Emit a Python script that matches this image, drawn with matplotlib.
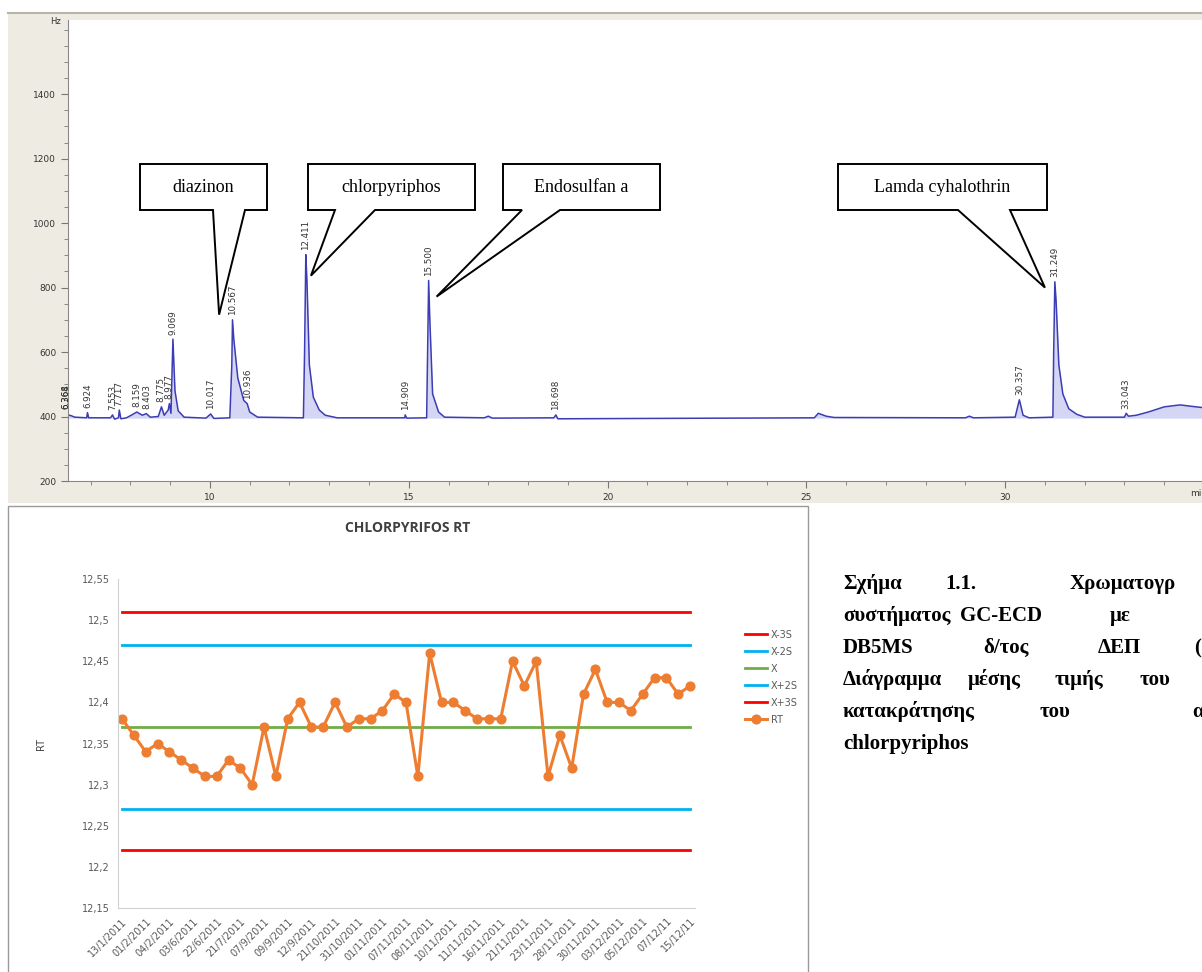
import numpy as np
import matplotlib
matplotlib.use("Agg")
import matplotlib.pyplot as plt
from matplotlib.patches import Rectangle, Polygon
from matplotlib.ticker import MultipleLocator

# ---- chromatogram (GC-ECD) ----
trace_t = [6.43, 6.5, 6.6, 6.9, 6.92, 6.95, 7.5, 7.55, 7.6, 7.7, 7.72, 7.76, 7.9, 8.05, 8.16, 8.3,
           8.4, 8.5, 8.7, 8.78, 8.85, 8.95, 8.98, 9.02, 9.069, 9.12, 9.2, 9.35, 9.9, 10.017, 10.1,
           10.5, 10.55, 10.567, 10.6, 10.7, 10.85, 10.936, 11.0, 11.2, 12.35, 12.38, 12.411, 12.44,
           12.5, 12.6, 12.75, 12.9, 13.2, 14.9, 14.91, 14.95, 15.45, 15.48, 15.5, 15.53, 15.6, 15.75,
           15.9, 16.9, 17.0, 17.1, 18.65, 18.7, 18.75, 25.2, 25.3, 25.5, 25.7, 29.0, 29.1, 29.2,
           30.25, 30.357, 30.45, 30.6, 31.2, 31.22, 31.249, 31.28, 31.35, 31.45, 31.6, 31.8, 32.0,
           33.0, 33.043, 33.1, 33.3, 33.6, 34.0, 34.4, 34.8, 34.95]
trace_v = [405, 403, 398, 396, 412, 396, 396, 405, 392, 396, 420, 393, 396, 406, 414, 404,
           409, 398, 400, 430, 404, 420, 440, 410, 640, 480, 418, 398, 395, 408, 394,
           396, 560, 700, 640, 520, 450, 440, 414, 398, 396, 600, 902, 820,
           560, 460, 420, 404, 396, 396, 405, 395, 396, 650, 822, 700, 470, 414,
           398, 396, 401, 395, 396, 405, 393, 396, 410, 401, 397, 396, 401, 396,
           398, 452, 404, 396, 398, 600, 818, 760, 560, 470, 424, 407, 398,
           398, 410, 401, 404, 414, 430, 436, 430, 428]

peak_labels = ["6.364", "6.368", "6.924", "7.553", "7.717", "8.159", "8.403", "8.775", "8.977",
               "9.069", "10.017", "10.567", "10.936", "12.411", "14.909", "15.500", "18.698",
               "30.357", "31.249", "33.043"]
peak_tops = [410, 410, 412, 405, 420, 415, 410, 430, 440, 640, 408, 700, 440, 902, 405, 822,
             405, 452, 818, 410]

callout_names = ["diazinon", "chlorpyriphos", "Endosulfan a", "Lamda cyhalothrin"]
callout_tips_t = [10.23, 12.54, 15.70, 31.00]
callout_tips_v = [716, 837, 772, 800]

# ---- control chart ----
date_labels = ["13/1/2011", "01/2/2011", "04/2/2011", "03/6/2011", "22/6/2011", "21/7/2011",
               "07/9/2011", "09/9/2011", "12/9/2011", "21/10/2011", "31/10/2011", "01/11/2011",
               "07/11/2011", "08/11/2011", "10/11/2011", "11/11/2011", "16/11/2011", "21/11/2011",
               "23/11/2011", "28/11/2011", "30/11/2011", "03/12/2011", "05/12/2011", "07/12/11",
               "15/12/11"]
rt = [12.38, 12.36, 12.34, 12.35, 12.34, 12.33, 12.32, 12.31, 12.31, 12.33, 12.32, 12.30, 12.37,
      12.31, 12.38, 12.40, 12.37, 12.37, 12.40, 12.37, 12.38, 12.38, 12.39, 12.41, 12.40, 12.31,
      12.46, 12.40, 12.40, 12.39, 12.38, 12.38, 12.38, 12.45, 12.42, 12.45, 12.31, 12.36, 12.32,
      12.41, 12.44, 12.40, 12.40, 12.39, 12.41, 12.43, 12.43, 12.41, 12.42]
limit_names = ["X-3S", "X-2S", "X", "X+2S", "X+3S"]
limit_values = [12.22, 12.27, 12.37, 12.47, 12.51]
limit_colors = ["#FF0000", "#00B0F0", "#70AD47", "#00B0F0", "#FF0000"]

W, H = 1202, 972
fig = plt.figure(figsize=(W / 100, H / 100), dpi=100)


def px_rect(x0, y0, x1, y1):
    return [x0 / W, 1 - y1 / H, (x1 - x0) / W, (y1 - y0) / H]


# background layer in pixel coordinates
bg = fig.add_axes([0, 0, 1, 1], zorder=0)
bg.set_xlim(0, W)
bg.set_ylim(H, 0)
bg.axis("off")
bg.add_patch(Rectangle((8, 12), W - 8, 491, facecolor="#EEECE2", edgecolor="none"))
bg.plot([8, W], [13, 13], color="#B8B5A8", lw=1.5)
bg.add_patch(Rectangle((8, 506), 800, 480, facecolor="white", edgecolor="#9A9A9A", lw=1))

# chromatogram
ax = fig.add_axes(px_rect(68, 20, W, 481), zorder=1)
ax.set_facecolor("white")
ax.fill_between(trace_t, 395, trace_v, color="#B4B4EC", alpha=0.55, lw=0)
ax.plot(trace_t, trace_v, color="#3C3CB4", lw=1.1)
ax.set_xlim(6.43, 34.95)
ax.set_ylim(200, 1630)
ax.set_yticks(np.arange(200, 1401, 200))
ax.yaxis.set_minor_locator(MultipleLocator(50))
ax.set_xticks(np.arange(10, 31, 5))
ax.xaxis.set_minor_locator(MultipleLocator(1))
ax.tick_params(which="both", direction="out", colors="#777777", labelcolor="#333333",
               labelsize=6.5)
ax.tick_params(which="major", length=5)
ax.tick_params(which="minor", length=3)
for s in ["top", "right"]:
    ax.spines[s].set_visible(False)
for s in ["left", "bottom"]:
    ax.spines[s].set_color("#888888")
for lab, v in zip(peak_labels, peak_tops):
    ax.text(float(lab), v + 14, lab, rotation=90, ha="center", va="bottom", fontsize=6.3,
            color="#333333", clip_on=False)
fig.text(50 / W, 1 - 22 / H, "Hz", fontsize=6, color="#333333", va="center")
fig.text(1190 / W, 1 - 493 / H, "mi", fontsize=6.5, color="#333333", va="center")

# control chart
ax2 = fig.add_axes(px_rect(118, 579, 695, 908), zorder=1)
x = np.arange(len(rt))
handles = []
for name, val, col in zip(limit_names, limit_values, limit_colors):
    h, = ax2.plot(x, np.full(len(rt), val), color=col, lw=2, label=name)
    handles.append(h)
h, = ax2.plot(x, rt, color="#ED7D31", lw=2.2, marker="o", ms=6.3, label="RT")
handles.append(h)
ax2.set_xlim(-0.34, len(rt) - 1 + 0.42)
ax2.set_ylim(12.15, 12.55)
yt = np.arange(12.15, 12.551, 0.05)
ax2.set_yticks(yt)
ax2.set_yticklabels([f"{v:.2f}".rstrip("0").rstrip(".").replace(".", ",") for v in yt])
ax2.set_xticks(x[::2])
ax2.set_xticklabels(date_labels, rotation=45, ha="right", rotation_mode="anchor")
ax2.tick_params(length=0, labelsize=7, labelcolor="#595959", pad=6)
for s in ["top", "right"]:
    ax2.spines[s].set_visible(False)
ax2.spines["left"].set_color("#D0D0D0")
ax2.spines["bottom"].set_color("#D0D0D0")
ax2.set_ylabel("RT", fontsize=7, color="#404040", labelpad=26)
fig.text(408 / W, 1 - 528 / H, "CHLORPYRIFOS RT", ha="center", va="center",
         fontsize=10, fontweight="bold", color="#404040", family="Open Sans")
fig.legend(handles=handles, loc="upper left", bbox_to_anchor=(736 / W, 1 - 621 / H),
           frameon=False, fontsize=7, handlelength=2.3, labelspacing=0.72,
           handletextpad=0.4, labelcolor="#595959")

# overlay for callouts and caption
ov = fig.add_axes([0, 0, 1, 1], zorder=5)
ov.set_xlim(0, W)
ov.set_ylim(H, 0)
ov.axis("off")
ov.patch.set_alpha(0)
boxes = [(140, 267, 213, 245), (308, 475, 335, 375), (503, 660, 522, 560), (838, 1047, 958, 1010)]
fig.canvas.draw()
for name, (x0, x1, b0, b1), tt, tv in zip(callout_names, boxes, callout_tips_t, callout_tips_v):
    dx, dy = ax.transData.transform((tt, tv))
    tip = (dx, H - dy)
    y0, y1 = 164, 210
    poly = [(x0, y0), (x1, y0), (x1, y1), (b1, y1), tip, (b0, y1), (x0, y1)]
    ov.add_patch(Polygon(poly, closed=True, facecolor="white", edgecolor="black", lw=1.4))
    ov.text((x0 + x1) / 2, 188, name, ha="center", va="center", fontsize=13,
            family="Liberation Serif")

# caption (justified text, cut at the right edge as in the page)
caption = [
    [(843, "Σχήμα"), (945, "1.1."), (1070, "Χρωματογρ")],
    [(843, "συστήματος"), (960, "GC-ECD"), (1110, "με")],
    [(843, "DB5MS"), (983, "δ/τος"), (1098, "ΔΕΠ"), (1194, "(")],
    [(843, "Διάγραμμα"), (968, "μέσης"), (1055, "τιμής"), (1140, "του")],
    [(843, "κατακράτησης"), (1040, "του"), (1192, "α")],
    [(843, "chlorpyriphos")],
]
for i, words in enumerate(caption):
    for xw, w in words:
        ov.text(xw, 589 + 32 * i, w, ha="left", va="baseline", fontsize=15,
                fontweight="bold", family="Liberation Serif", clip_on=False)

fig.savefig("out.png", dpi=100)
